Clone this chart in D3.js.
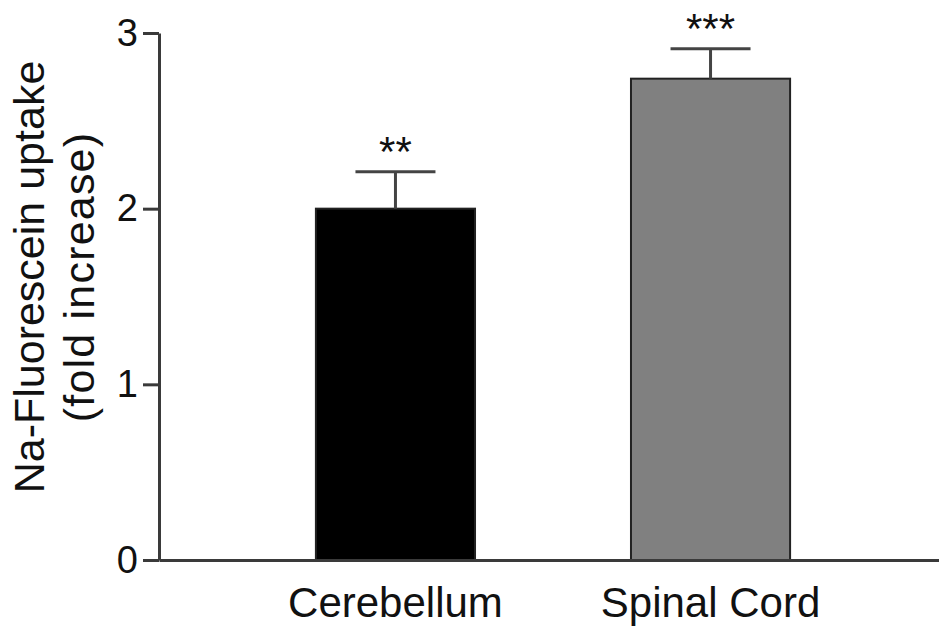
<!DOCTYPE html>
<html lang="en">
<head>
<meta charset="UTF-8">
<title>Na-Fluorescein uptake</title>
<style>
    body { margin: 0; background: #fff; }
    svg text { font-family: "Liberation Sans", Arial, sans-serif; fill: #111; }
</style>
</head>
<body>
<svg id="chart"></svg>
<script src="https://cdnjs.cloudflare.com/ajax/libs/d3/7.9.0/d3.min.js"></script>
<script>
    // data
    const categories = ["Cerebellum", "Spinal Cord"];
    const means = [2.0, 2.74];
    const errors = [0.21, 0.17];
    const stars = ["**", "***"];
    const barColors = ["#000000", "#808080"];
    const yTicks = [0, 1, 2, 3];

    const w = 939, h = 626;
    const plotLeft = 159, plotTop = 33, plotBottom = 560;

    const svg = d3.select("#chart").attr("width", w).attr("height", h);

    const x = d3.scaleBand()
        .domain(categories)
        .range([plotLeft, 947])
        .paddingInner(0.495)
        .paddingOuter(0.498);

    const y = d3.scaleLinear().domain([0, 3]).range([plotBottom, plotTop]);

    // bars
    svg.selectAll(".bar")
        .data(categories)
        .enter()
        .append("rect")
        .attr("class", "bar")
        .attr("x", d => x(d))
        .attr("y", (d, i) => y(means[i]))
        .attr("width", x.bandwidth())
        .attr("height", (d, i) => y(0) - y(means[i]))
        .attr("fill", (d, i) => barColors[i])
        .attr("stroke", "#222")
        .attr("stroke-width", 2);

    // error bars (upper only)
    const capW = 80;
    const err = svg.selectAll(".err")
        .data(categories)
        .enter()
        .append("g")
        .attr("class", "err")
        .attr("stroke", "#444")
        .attr("stroke-width", 3);
    err.append("line")
        .attr("x1", d => x(d) + x.bandwidth() / 2)
        .attr("x2", d => x(d) + x.bandwidth() / 2)
        .attr("y1", (d, i) => y(means[i]))
        .attr("y2", (d, i) => y(means[i] + errors[i]));
    err.append("line")
        .attr("x1", d => x(d) + x.bandwidth() / 2 - capW / 2)
        .attr("x2", d => x(d) + x.bandwidth() / 2 + capW / 2)
        .attr("y1", (d, i) => y(means[i] + errors[i]))
        .attr("y2", (d, i) => y(means[i] + errors[i]));

    // significance stars
    svg.selectAll(".star")
        .data(categories)
        .enter()
        .append("text")
        .attr("class", "star")
        .attr("x", d => x(d) + x.bandwidth() / 2)
        .attr("y", (d, i) => y(means[i] + errors[i]) - 6)
        .attr("text-anchor", "middle")
        .style("font-size", "42px")
        .text((d, i) => stars[i]);

    // axes
    const yAxis = svg.append("g")
        .attr("transform", "translate(" + plotLeft + ",0)")
        .call(d3.axisLeft(y).tickValues(yTicks).tickFormat(d3.format("d")).tickSize(16).tickSizeOuter(0).tickPadding(5));
    const xAxis = svg.append("g")
        .attr("transform", "translate(0," + plotBottom + ")")
        .call(d3.axisBottom(x).tickSize(0).tickPadding(27));

    [xAxis, yAxis].forEach(g => {
        g.selectAll("path, line").attr("stroke", "#3a3a3a").attr("stroke-width", 3);
        g.selectAll("text").style("font-family", "Liberation Sans, Arial, sans-serif").attr("fill", "#111");
    });
    yAxis.selectAll("text").style("font-size", "38px");
    xAxis.selectAll("text").style("font-size", "42px");

    // y axis title
    const title = svg.append("text")
        .attr("transform", "translate(44,277) rotate(-90)")
        .attr("text-anchor", "middle")
        .style("font-size", "43px");
    title.append("tspan").attr("x", 0).attr("dy", 0).text("Na-Fluorescein uptake");
    title.append("tspan").attr("x", 0).attr("dy", 50)
        .style("letter-spacing", "1.2px")
        .text("(fold increase)");
</script>
</body>
</html>
